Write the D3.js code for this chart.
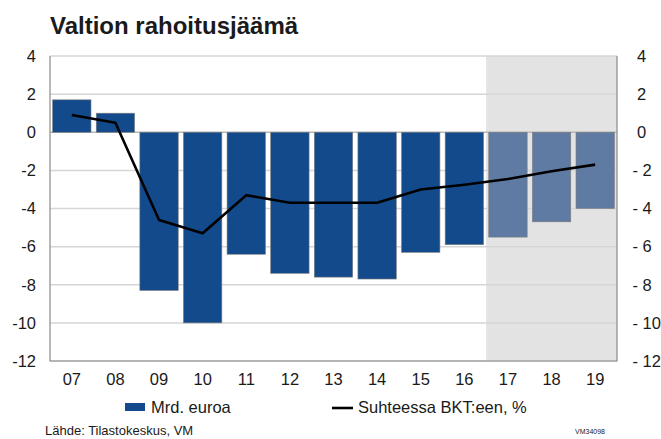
<!DOCTYPE html>
<html lang="fi">
  <head>
    <meta charset="utf-8" />
    <title>Valtion rahoitusjäämä</title>
    <script src="https://cdn.jsdelivr.net/npm/d3@7/dist/d3.min.js"></script>
    <style>
      body { margin: 0; background: #fff; }
      text { font-family: "Liberation Sans", Arial, sans-serif; fill: #1a1a1a; }
    </style>
  </head>
  <body>
    <script>
      // data
      var years = ["07","08","09","10","11","12","13","14","15","16","17","18","19"]
      var mrdEuroa = [1.7, 1.0, -8.3, -10.0, -6.4, -7.4, -7.6, -7.7, -6.3, -5.9, -5.5, -4.7, -4.0]
      var bktPct = [0.9, 0.5, -4.6, -5.3, -3.3, -3.7, -3.7, -3.7, -3.0, -2.75, -2.45, -2.05, -1.7]
      var forecastFrom = "17"
      var yTicks = [4, 2, 0, -2, -4, -6, -8, -10, -12]

      var W = 661, H = 439
      var plotL = 50, plotR = 617, plotT = 56, plotB = 361

      var svg = d3.select("body").append("svg")
                  .attr("width", W)
                  .attr("height", H)

      var x = d3.scaleBand().domain(years).range([plotL, plotR]).paddingInner(0.12).paddingOuter(0.06)
      var y = d3.scaleLinear().domain([-12, 4]).range([plotB, plotT])

      // forecast shading
      var fx = plotL + (plotR - plotL) * years.indexOf(forecastFrom) / years.length
      svg.append("rect")
         .attr("x", fx).attr("y", plotT)
         .attr("width", plotR - fx).attr("height", plotB - plotT)
         .attr("fill", "#e3e3e3")

      // gridlines
      svg.append("g").selectAll("line")
         .data(yTicks)
         .enter().append("line")
           .attr("x1", plotL).attr("x2", plotR)
           .attr("y1", function(d) { return y(d) }).attr("y2", function(d) { return y(d) })
           .attr("stroke", function(d) { return d == 0 ? "#b8b8b8" : "#d6d6d6" })
           .attr("stroke-width", 1.5)

      // bars
      svg.append("g").selectAll("rect")
         .data(years)
         .enter().append("rect")
           .attr("x", function(d) { return x(d) })
           .attr("width", x.bandwidth())
           .attr("y", function(d, i) { return y(Math.max(0, mrdEuroa[i])) })
           .attr("height", function(d, i) { return Math.abs(y(mrdEuroa[i]) - y(0)) })
           .attr("fill", function(d) { return +d >= +forecastFrom ? "#5f7aa3" : "#124a8c" })
           .attr("stroke", "#7d7d7d")
           .attr("stroke-width", 0.6)

      // plot frame (left, bottom, right)
      svg.append("path")
         .attr("d", "M" + plotL + "," + plotT + "V" + plotB + "H" + plotR + "V" + plotT)
         .attr("fill", "none")
         .attr("stroke", "#8a8a8a")
         .attr("stroke-width", 1.2)

      // line series
      var line = d3.line()
                   .x(function(d, i) { return x(years[i]) + x.bandwidth() / 2 })
                   .y(function(d) { return y(d) })
      svg.append("path")
         .datum(bktPct)
         .attr("d", line)
         .attr("fill", "none")
         .attr("stroke", "#000")
         .attr("stroke-width", 2.6)
         .attr("stroke-linejoin", "round")

      // axes (labels only)
      var fs = "16.5px"
      var leftAxis = svg.append("g")
         .attr("transform", "translate(" + plotL + ",0)")
         .call(d3.axisLeft(y).tickValues(yTicks).tickSize(0).tickPadding(14)
                 .tickFormat(function(d) { return d < 0 ? "-" + Math.abs(d) : "" + d }))
      leftAxis.select(".domain").remove()
      leftAxis.selectAll("text").style("font-size", fs).attr("fill", "#1a1a1a")

      var rightAxis = svg.append("g")
         .attr("transform", "translate(" + plotR + ",0)")
         .call(d3.axisRight(y).tickValues(yTicks).tickSize(0).tickPadding(20)
                 .tickFormat(function(d) { return d < 0 ? "- " + Math.abs(d) : "" + d }))
      rightAxis.select(".domain").remove()
      rightAxis.selectAll("text")
               .style("font-size", fs).attr("fill", "#1a1a1a")
               .attr("x", function(d) { return d < 0 ? 15.5 : 20 })

      var xAxis = svg.append("g")
         .attr("transform", "translate(0," + plotB + ")")
         .call(d3.axisBottom(x).tickSize(0).tickPadding(12))
      xAxis.select(".domain").remove()
      xAxis.selectAll("text").style("font-size", fs).attr("fill", "#1a1a1a")

      // title
      svg.append("text")
         .attr("x", 50).attr("y", 34)
         .style("font-size", "24px").style("font-weight", "bold")
         .text("Valtion rahoitusjäämä")

      // legend
      svg.append("rect")
         .attr("x", 125).attr("y", 403).attr("width", 20).attr("height", 8)
         .attr("fill", "#124a8c")
      svg.append("text")
         .attr("x", 151).attr("y", 413)
         .style("font-size", fs)
         .text("Mrd. euroa")
      svg.append("line")
         .attr("x1", 332).attr("x2", 353).attr("y1", 408).attr("y2", 408)
         .attr("stroke", "#000").attr("stroke-width", 2.6)
      svg.append("text")
         .attr("x", 358).attr("y", 413)
         .style("font-size", fs)
         .text("Suhteessa BKT:een, %")

      // footer
      svg.append("text")
         .attr("x", 45).attr("y", 435)
         .style("font-size", "13px")
         .text("Lähde: Tilastokeskus, VM")
      svg.append("text")
         .attr("x", 575).attr("y", 434)
         .style("font-size", "7px").attr("fill", "#444")
         .text("VM34098")
    </script>
  </body>
</html>
